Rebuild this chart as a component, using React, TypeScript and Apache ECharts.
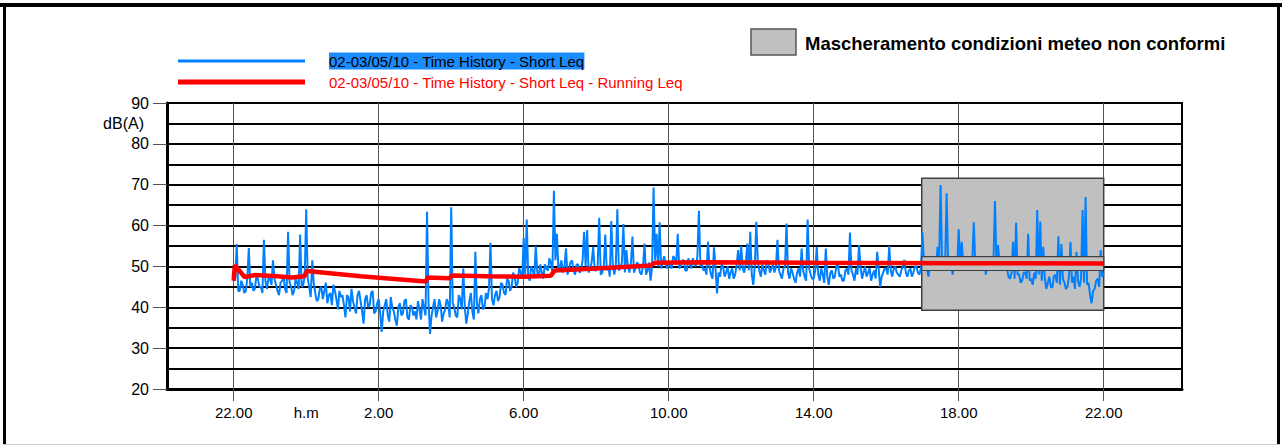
import React, { useEffect, useRef } from "react";
import * as echarts from "echarts";

// Time axis: hours elapsed since 22:00 of 02/05/10
const xMin = -1.84;
const xMax = 26.16;
const xTickHours = [0, 4, 8, 12, 16, 20, 24];
const xTickLabels = ["22.00", "2.00", "6.00", "10.00", "14.00", "18.00", "22.00"];
const xUnitHour = 2;
const xUnitLabel = "h.m";

const yTickValues = [20, 30, 40, 50, 60, 70, 80, 90];
const yMinorGrid = [25, 35, 45, 55, 65, 75, 85];

// Short Leq, one value every 2.5 minutes starting at 22:00 (24 per row = 1 hour)
const blueStartHour = 0;
const blueStepHours = 2.5 / 60;
const blueValues = [
  46.5, 47, 55.5, 44, 44, 46.5, 45.5, 43.5, 44, 47, 54.5, 45, 46, 44, 44.5, 47.5, 47, 45, 45, 43.5, 56.5, 46.5, 44.5, 47,
  47, 45.5, 51.5, 47, 45.5, 44, 43, 46, 46.5, 47.5, 44.5, 43.5, 58.5, 46, 45, 43, 44, 47, 46, 44.5, 57.8, 45, 45.5, 47.5,
  64, 47, 45, 42.5, 51.5, 46, 43.5, 41.5, 42, 44.5, 45, 42, 44, 46, 41, 43, 43.5, 40.5, 45.5, 44, 42, 39.5, 44, 42.5,
  43, 40.5, 37.5, 43, 42.5, 39, 44.5, 41.5, 40, 38.5, 43, 44, 41.5, 39, 36, 42, 43, 40, 40.5, 43.5, 44, 38.5, 39, 41,
  42, 38.5, 34, 39, 40.5, 42, 38, 36.5, 42.5, 40, 39, 37, 35.5, 40, 41, 38, 38.5, 41.5, 42, 37.5, 37, 40.5, 40, 38,
  39, 37, 41.5, 39.5, 37, 42, 40, 38, 63.4, 41, 33.5, 38, 40, 42, 37.5, 39, 42, 40.5, 36.5, 38.5, 39.5, 42, 41, 37.5,
  64.5, 41, 40, 38, 37.5, 43, 42, 39.5, 49.5, 40, 36, 38.5, 41.5, 43.5, 39, 37, 53.6, 41, 38.5, 42, 43, 39.5, 40, 43.5,
  42, 44.5, 55.8, 42, 40.5, 43, 44, 41.5, 42.5, 46, 45.5, 43.5, 43, 47, 46.5, 44, 45, 48.5, 47.5, 45, 46, 49.5, 48.5, 47,
  57, 48, 61.5, 47.5, 46.5, 50, 49, 47.5, 55, 48.5, 47.5, 50.5, 48.5, 47, 50.5, 49.5, 49, 52, 51, 48.5, 68.5, 51.5, 58, 49,
  50, 51.5, 48.5, 50, 54.4, 48, 49.5, 51, 51.5, 49, 48, 50.5, 50.5, 48.5, 49, 51.5, 58.5, 50, 58.9, 48.5, 49.5, 51, 54.8, 49,
  49, 50.5, 61.9, 48, 48.5, 50, 57.8, 49, 50, 47.5, 61.1, 50, 48, 50.5, 64, 49, 49.5, 51, 60.4, 48.5, 54, 50, 48.5, 51,
  57.3, 48.5, 49.5, 51, 50.5, 48.5, 48, 50, 55.6, 48, 49, 51, 46.5, 50, 69.3, 51.5, 58, 50, 60.8, 49.5, 51, 52.5, 50.5, 49.5,
  51.5, 50, 49.5, 52.5, 52, 50.5, 58, 49.5, 50, 51.5, 51.5, 49, 49, 52, 50.5, 49.5, 52, 50.5, 50, 52.5, 63.6, 50, 50.5, 49,
  49.5, 48, 56, 50, 48, 47, 54.7, 49.5, 43.4, 48.5, 47.5, 50.5, 50, 47.5, 48.5, 50, 47, 48.5, 49.5, 47, 48, 50.5, 54, 49,
  55, 49.5, 48.5, 50.5, 55.6, 49, 58.5, 48, 45.5, 50, 60.9, 51, 49, 47.5, 50.5, 49, 48, 51.5, 51, 48.5, 49.5, 50.5, 48.5, 50,
  56.5, 49, 48, 47, 49.5, 50, 60.5, 48.5, 47, 49.5, 48.5, 47, 46, 48.5, 49.5, 47.5, 54.4, 49, 47.5, 46.5, 61.5, 49.5, 48, 47,
  47, 49, 54.8, 48, 46.5, 49.5, 48, 46, 54.4, 47.5, 45.5, 48.5, 49, 47, 47.5, 50, 50.5, 47.5, 48, 46.5, 46.5, 49, 49.5, 48,
  58.3, 49, 48, 46.5, 49.5, 48, 55.2, 50, 47, 48.5, 50, 47.5, 48.5, 49.5, 46.5, 48, 49, 47, 53.6, 49.5, 45, 47.5, 48.5, 49.5,
  49.5, 48, 55, 49, 47.5, 49.5, 50, 48.5, 48, 47.5, 49, 50, 51.6, 48.5, 47.5, 49, 49.5, 47.5, 48.5, 50, 50, 48.5, 48, 49.5,
  58.3, 51, 50.5, 49.5, 47.5, 50.5, 50, 51.5, 51, 50, 54.8, 50.5, 69.9, 51, 50.5, 50, 67.9, 50.5, 50, 51, 48, 50.5, 51, 50,
  59.1, 50.5, 56, 51, 50.5, 50, 51, 50.5, 50, 51.5, 60.8, 50, 50.5, 51, 51, 50, 50, 50.5, 48, 51, 51, 50, 50.5, 51,
  66, 50.5, 55.2, 51, 50, 50.5, 51, 49, 49.5, 47.5, 47, 48.5, 56, 47, 60.7, 48, 48, 46, 46.5, 48.5, 48.5, 47, 58, 46.5,
  47, 45.5, 48.5, 47, 63.8, 48, 61, 46.5, 54.8, 47, 44.5, 46, 47.5, 45, 44.8, 47.5, 48, 46, 57.4, 45.5, 55.5, 47, 46, 44.5,
  45, 47.5, 56, 46, 47.5, 44.5, 53.6, 46.5, 45, 47, 63.8, 46, 67, 45.5, 46, 43, 41, 44, 44.5, 46.5, 47, 45, 54, 47.5,
  48.5,
];

// Running Leq breakpoints
const redHours = [0, 0.03, 0.3, 0.6, 1.2, 1.6, 1.95, 2.02, 3.5, 5.3, 5.35, 5.95, 6.02, 7.0, 8.0, 8.75, 8.85, 10.0, 11.5, 11.62, 13, 16, 20, 24];
const redValues = [46.5, 50.3, 47.4, 47.9, 47.6, 47.3, 47.6, 48.9, 47.6, 46.3, 47.3, 47.1, 47.8, 47.6, 47.5, 47.7, 49.0, 49.5, 50.2, 50.9, 51.0, 50.9, 50.8, 50.7];

// Masking of non-conforming weather conditions
const maskHours = [18.98, 24];
const maskValues = [39.3, 71.6];
const bandValues = [49.0, 52.4];

const blueName = "02-03/05/10 - Time History - Short Leq";
const redName = "02-03/05/10 - Time History - Short Leq - Running Leq";
const maskName = "Mascheramento condizioni meteo non conformi";

const FONT = "'Liberation Sans', Arial, sans-serif";

export default function App() {
  const ref = useRef<HTMLDivElement>(null);
  useEffect(() => {
    document.body.style.margin = "0";
    const chart = echarts.init(ref.current!, undefined, { renderer: "svg" });
    const blueData = blueValues.map((v, i) => [blueStartHour + i * blueStepHours, v]);
    const redData = redHours.map((h, i) => [h, redValues[i]]);
    const labelFor = (v: number) => {
      if (Math.abs(v - xUnitHour) < 1e-6) return xUnitLabel;
      const idx = xTickHours.findIndex((h) => Math.abs(h - v) < 1e-6);
      return idx >= 0 ? xTickLabels[idx] : "";
    };
    chart.setOption({
      animation: false,
      backgroundColor: "#fff",
      textStyle: { fontFamily: FONT },
      grid: {
        left: 167,
        top: 103,
        width: 1015,
        height: 286,
        show: true,
        borderColor: "#000",
        borderWidth: 2,
      },
      xAxis: {
        type: "value",
        min: xMin,
        max: xMax,
        axisLine: { onZero: false, lineStyle: { color: "#000", width: 3 } },
        axisTick: {
          customValues: xTickHours,
          length: 12,
          lineStyle: { color: "#555", width: 1 },
        },
        axisLabel: {
          customValues: [...xTickHours, xUnitHour],
          formatter: labelFor,
          color: "#000",
          fontSize: 15,
          margin: 16,
          fontFamily: FONT,
        },
        splitLine: { show: false },
      },
      yAxis: {
        type: "value",
        min: 20,
        max: 90,
        interval: 5,
        axisLine: { show: true, onZero: false, lineStyle: { color: "#000", width: 3 } },
        axisTick: {
          show: true,
          customValues: yTickValues,
          length: 14,
          lineStyle: { color: "#555", width: 1 },
        },
        axisLabel: {
          customValues: yTickValues,
          color: "#000",
          fontSize: 16,
          margin: 18,
          fontFamily: FONT,
        },
        splitLine: { show: true, lineStyle: { color: "#000", width: 2 } },
      },
      series: [
        {
          type: "line",
          name: "grid",
          data: [],
          silent: true,
          markLine: {
            silent: true,
            z: 0.5,
            symbol: "none",
            label: { show: false },
            lineStyle: { color: "#555", width: 1, type: "solid" },
            data: [
              ...xTickHours.map((h) => ({ xAxis: h, lineStyle: { color: "#555", width: 1, type: "solid" } })),
              ...yMinorGrid.map((v) => ({ yAxis: v, lineStyle: { color: "#000", width: 2, type: "solid" } })),
            ],
          },
        },
        {
          type: "line",
          name: maskName,
          data: [],
          silent: true,
          markArea: {
            silent: true,
            z: 1,
            itemStyle: { color: "#c0c0c0", borderColor: "#404040", borderWidth: 1.5 },
            data: [[{ xAxis: maskHours[0], yAxis: maskValues[0] }, { xAxis: maskHours[1], yAxis: maskValues[1] }]],
          },
        },
        {
          type: "line",
          name: blueName,
          data: blueData,
          z: 2,
          symbol: "none",
          lineStyle: { color: "#0080ff", width: 2 },
        },
        {
          type: "line",
          name: "band",
          data: [],
          silent: true,
          markArea: {
            silent: true,
            z: 3,
            itemStyle: { color: "#c0c0c0", borderColor: "#404040", borderWidth: 1.2 },
            data: [[{ xAxis: maskHours[0], yAxis: bandValues[0] }, { xAxis: maskHours[1], yAxis: bandValues[1] }]],
          },
        },
        {
          type: "line",
          name: redName,
          data: redData,
          z: 4,
          symbol: "none",
          lineStyle: { color: "#ff0000", width: 4.5 },
        },
      ],
      graphic: [
        { type: "rect", shape: { x: 0, y: 3, width: 1282, height: 4 }, style: { fill: "#000" } },
        { type: "rect", shape: { x: 3, y: 3, width: 3, height: 441 }, style: { fill: "#000" } },
        { type: "rect", shape: { x: 1277, y: 3, width: 3, height: 441 }, style: { fill: "#000" } },
        { type: "line", shape: { x1: 3, y1: 444.5, x2: 1280, y2: 444.5 }, style: { stroke: "#ccc", lineWidth: 1 } },
        { type: "line", shape: { x1: 178, y1: 61, x2: 305, y2: 61 }, style: { stroke: "#0080ff", lineWidth: 3 } },
        { type: "line", shape: { x1: 178, y1: 82, x2: 305, y2: 82 }, style: { stroke: "#ff0000", lineWidth: 5 } },
        {
          type: "text",
          x: 329,
          y: 61,
          style: {
            text: blueName,
            fill: "#000",
            fontSize: 15,
            fontFamily: FONT,
            align: "left",
            verticalAlign: "middle",
            backgroundColor: "#1a8cff",
            padding: [1, 0, 1, 0],
          },
        },
        {
          type: "text",
          x: 329,
          y: 82,
          style: { text: redName, fill: "#ff0000", fontSize: 15, fontFamily: FONT, align: "left", verticalAlign: "middle" },
        },
        {
          type: "rect",
          shape: { x: 751, y: 29, width: 45, height: 26 },
          style: { fill: "#c0c0c0", stroke: "#555", lineWidth: 1.5 },
        },
        {
          type: "text",
          x: 805,
          y: 43,
          style: {
            text: maskName,
            fill: "#000",
            fontSize: 18.5,
            fontWeight: "bold",
            fontFamily: FONT,
            align: "left",
            verticalAlign: "middle",
          },
        },
        {
          type: "text",
          x: 144,
          y: 123,
          style: { text: "dB(A)", fill: "#000", fontSize: 16, fontFamily: FONT, align: "right", verticalAlign: "middle" },
        },
      ],
    });
    return () => chart.dispose();
  }, []);
  return <div ref={ref} style={{ width: 1282, height: 446 }} />;
}
